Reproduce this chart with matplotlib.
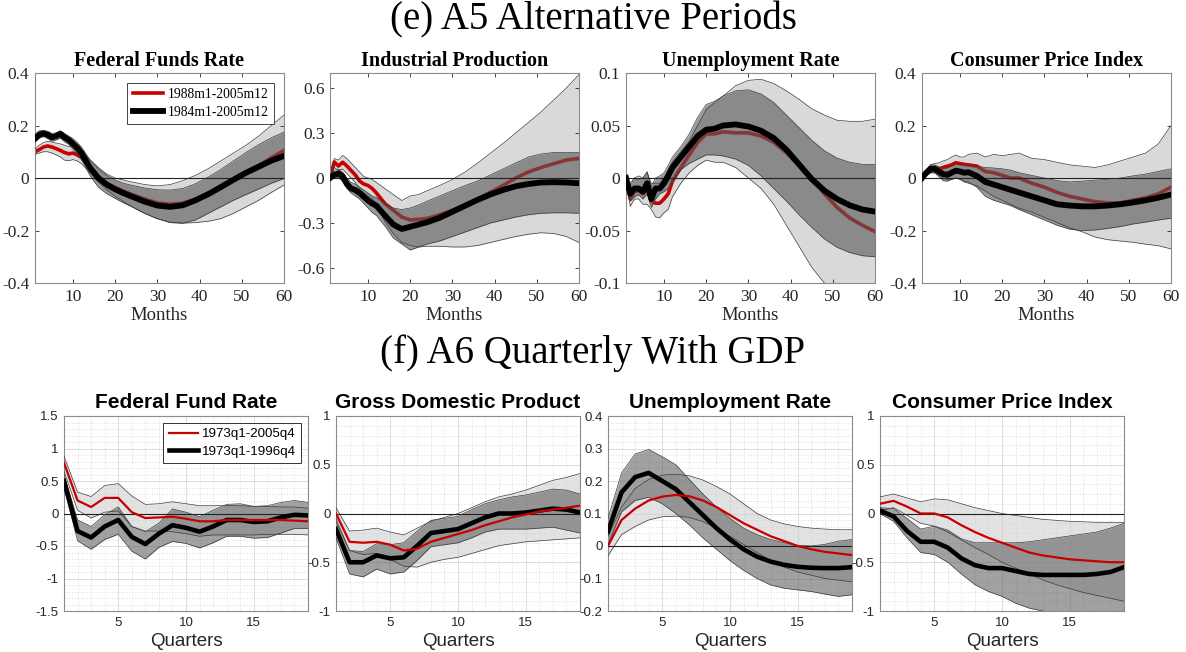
import matplotlib
matplotlib.use("Agg")
import matplotlib.pyplot as plt
from matplotlib.ticker import FixedLocator, MultipleLocator, FuncFormatter

plt.rcParams["axes.unicode_minus"] = False

SERIF = "Liberation Serif"
SANS = "Liberation Sans"

# ---------------- (e) monthly responses ----------------
months = [1, 2, 3, 4, 5, 6, 7, 8, 9, 10, 11, 12, 14, 16, 18, 20, 22, 24,
          27, 30, 33, 36, 39, 42, 45, 48, 51, 54, 57, 60]
monthly_labels = ["1988m1-2005m12", "1984m1-2005m12"]

# Federal funds rate
ffr_red = [0.10, 0.108, 0.118, 0.122, 0.118, 0.112, 0.105, 0.097, 0.092, 0.095, 0.088, 0.078,
           0.04, 0.005, -0.02, -0.037, -0.05, -0.063, -0.08, -0.095, -0.10, -0.096, -0.082,
           -0.06, -0.033, -0.005, 0.022, 0.048, 0.077, 0.105]
ffr_blk = [0.15, 0.165, 0.17, 0.165, 0.155, 0.16, 0.168, 0.155, 0.145, 0.13, 0.115, 0.095,
           0.04, 0.0, -0.025, -0.043, -0.058, -0.071, -0.09, -0.105, -0.11, -0.104, -0.085,
           -0.062, -0.035, -0.007, 0.02, 0.043, 0.066, 0.084]
ffr_red_hi = [0.11, 0.125, 0.135, 0.14, 0.137, 0.133, 0.13, 0.125, 0.12, 0.12, 0.11, 0.10,
              0.07, 0.04, 0.015, 0.0, -0.008, -0.015, -0.025, -0.03, -0.025, -0.01, 0.01,
              0.035, 0.065, 0.095, 0.125, 0.16, 0.20, 0.24]
ffr_red_lo = [0.09, 0.095, 0.10, 0.10, 0.095, 0.088, 0.08, 0.068, 0.066, 0.07, 0.065, 0.055,
              0.02, -0.015, -0.045, -0.07, -0.09, -0.11, -0.135, -0.155, -0.168, -0.172, -0.17,
              -0.165, -0.155, -0.135, -0.11, -0.085, -0.055, -0.027]
ffr_blk_hi = [0.165, 0.18, 0.182, 0.178, 0.17, 0.172, 0.18, 0.17, 0.16, 0.15, 0.135, 0.118,
              0.07, 0.035, 0.01, -0.008, -0.02, -0.028, -0.038, -0.045, -0.046, -0.04, -0.022,
              0.003, 0.032, 0.065, 0.097, 0.127, 0.153, 0.175]
ffr_blk_lo = [0.138, 0.152, 0.158, 0.15, 0.14, 0.145, 0.152, 0.138, 0.128, 0.11, 0.092, 0.072,
              0.01, -0.035, -0.06, -0.078, -0.095, -0.11, -0.135, -0.155, -0.17, -0.172, -0.16,
              -0.135, -0.11, -0.085, -0.063, -0.042, -0.02, -0.002]

# Industrial production
ip_red = [0.0, 0.107, 0.08, 0.105, 0.08, 0.05, 0.02, -0.02, -0.04, -0.05, -0.07, -0.10,
          -0.17, -0.215, -0.26, -0.28, -0.275, -0.27, -0.245, -0.215, -0.18, -0.14, -0.095,
          -0.05, 0.0, 0.04, 0.07, 0.095, 0.12, 0.13]
ip_blk = [0.0, 0.02, 0.03, 0.01, -0.04, -0.07, -0.08, -0.10, -0.125, -0.15, -0.17, -0.185,
          -0.25, -0.31, -0.34, -0.325, -0.31, -0.295, -0.265, -0.225, -0.185, -0.145, -0.11,
          -0.08, -0.055, -0.04, -0.03, -0.028, -0.03, -0.035]
ip_red_hi = [0.0, 0.13, 0.12, 0.15, 0.13, 0.10, 0.07, 0.04, 0.01, 0.0, -0.01, -0.03,
             -0.07, -0.11, -0.15, -0.12, -0.11, -0.085, -0.05, -0.01, 0.04, 0.10, 0.165,
             0.23, 0.30, 0.37, 0.44, 0.52, 0.60, 0.69]
ip_red_lo = [0.0, 0.07, 0.05, 0.06, 0.03, 0.0, -0.03, -0.07, -0.10, -0.12, -0.14, -0.17,
             -0.29, -0.37, -0.43, -0.45, -0.46, -0.455, -0.455, -0.46, -0.46, -0.45, -0.43,
             -0.41, -0.39, -0.375, -0.365, -0.37, -0.39, -0.43]
ip_blk_hi = [0.0, 0.05, 0.06, 0.04, 0.0, -0.03, -0.04, -0.06, -0.08, -0.10, -0.12, -0.13,
             -0.17, -0.20, -0.21, -0.20, -0.18, -0.155, -0.12, -0.085, -0.05, -0.02, 0.02,
             0.06, 0.10, 0.14, 0.16, 0.17, 0.17, 0.17]
ip_blk_lo = [0.0, 0.0, 0.0, -0.02, -0.07, -0.10, -0.12, -0.14, -0.17, -0.20, -0.23, -0.25,
             -0.32, -0.40, -0.44, -0.48, -0.46, -0.44, -0.42, -0.39, -0.36, -0.33, -0.30,
             -0.28, -0.26, -0.245, -0.235, -0.232, -0.232, -0.235]

# Unemployment rate
ur_red = [0.0, -0.02, -0.013, -0.012, -0.015, -0.01, -0.022, -0.024, -0.024, -0.02, -0.015, -0.003,
          0.01, 0.022, 0.034, 0.042, 0.042, 0.044, 0.043, 0.043, 0.04, 0.034, 0.024,
          0.012, 0.0, -0.015, -0.028, -0.038, -0.045, -0.051]
ur_blk = [0.0, -0.015, -0.01, -0.01, -0.013, -0.005, -0.02, -0.01, -0.01, -0.005, 0.002, 0.01,
          0.02, 0.03, 0.04, 0.046, 0.047, 0.05, 0.051, 0.049, 0.045, 0.038, 0.027,
          0.013, -0.001, -0.012, -0.02, -0.026, -0.03, -0.032]
ur_red_hi = [0.0, -0.005, 0.0, 0.002, 0.0, 0.005, -0.005, -0.005, -0.005, 0.0, 0.008, 0.015,
             0.025, 0.035, 0.05, 0.065, 0.072, 0.078, 0.088, 0.093, 0.094, 0.09, 0.083,
             0.075, 0.066, 0.06, 0.055, 0.054, 0.054, 0.056]
ur_red_lo = [0.0, -0.027, -0.02, -0.02, -0.025, -0.025, -0.03, -0.037, -0.038, -0.033, -0.03, -0.018,
             -0.005, 0.005, 0.012, 0.017, 0.015, 0.015, 0.01, 0.0, -0.01, -0.025, -0.045,
             -0.065, -0.085, -0.10, -0.11, -0.12, -0.13, -0.14]
ur_blk_hi = [0.0, -0.008, 0.0, -0.002, 0.0, 0.006, -0.008, 0.0, 0.002, 0.005, 0.012, 0.02,
             0.03, 0.042, 0.058, 0.07, 0.073, 0.078, 0.083, 0.084, 0.08, 0.072, 0.06,
             0.048, 0.036, 0.026, 0.019, 0.015, 0.013, 0.013]
ur_blk_lo = [0.0, -0.022, -0.018, -0.016, -0.02, -0.015, -0.028, -0.02, -0.015, -0.013, -0.01, -0.003,
             0.008, 0.014, 0.018, 0.022, 0.022, 0.021, 0.018, 0.012, 0.002, -0.01, -0.022,
             -0.035, -0.047, -0.058, -0.066, -0.071, -0.074, -0.075]

# Consumer price index
cpi_red = [0.0, 0.02, 0.04, 0.04, 0.035, 0.04, 0.045, 0.05, 0.058, 0.055, 0.052, 0.05,
           0.045, 0.025, 0.02, 0.01, 0.0, 0.0, -0.02, -0.035, -0.055, -0.07, -0.08,
           -0.09, -0.095, -0.095, -0.085, -0.075, -0.06, -0.035]
cpi_blk = [0.0, 0.02, 0.035, 0.035, 0.025, 0.015, 0.012, 0.02, 0.028, 0.025, 0.02, 0.022,
           0.008, -0.015, -0.025, -0.035, -0.045, -0.055, -0.07, -0.085, -0.10, -0.105, -0.108,
           -0.108, -0.105, -0.10, -0.093, -0.085, -0.075, -0.063]
cpi_red_hi = [0.0, 0.025, 0.05, 0.055, 0.058, 0.065, 0.07, 0.08, 0.088, 0.08, 0.08, 0.09,
              0.095, 0.08, 0.09, 0.085, 0.09, 0.095, 0.075, 0.07, 0.06, 0.05, 0.045,
              0.04, 0.05, 0.065, 0.08, 0.095, 0.13, 0.20]
cpi_red_lo = [0.0, 0.01, 0.02, 0.02, 0.01, 0.0, -0.005, -0.005, 0.0, -0.005, -0.015, -0.02,
              -0.03, -0.05, -0.07, -0.085, -0.10, -0.115, -0.13, -0.15, -0.17, -0.19, -0.205,
              -0.225, -0.235, -0.24, -0.245, -0.252, -0.258, -0.27]
cpi_blk_hi = [0.0, 0.03, 0.05, 0.05, 0.042, 0.035, 0.035, 0.045, 0.05, 0.05, 0.05, 0.048,
              0.045, 0.04, 0.038, 0.035, 0.03, 0.02, 0.01, 0.0, -0.01, -0.015, -0.012,
              -0.008, -0.005, 0.0, 0.008, 0.015, 0.025, 0.035]
cpi_blk_lo = [0.0, 0.008, 0.02, 0.02, 0.005, -0.01, -0.012, -0.005, 0.0, -0.005, -0.012, -0.015,
              -0.035, -0.07, -0.085, -0.095, -0.105, -0.12, -0.14, -0.16, -0.18, -0.195, -0.20,
              -0.198, -0.192, -0.185, -0.175, -0.168, -0.16, -0.153]

# ---------------- (f) quarterly responses ----------------
quarters = list(range(1, 20))
quarterly_labels = ["1973q1-2005q4", "1973q1-1996q4"]

qffr_red = [0.78, 0.20, 0.10, 0.24, 0.24, 0.02, -0.07, -0.06, -0.05, -0.08, -0.12, -0.12,
            -0.10, -0.10, -0.10, -0.10, -0.10, -0.11, -0.12]
qffr_blk = [0.50, -0.27, -0.37, -0.20, -0.10, -0.36, -0.47, -0.31, -0.18, -0.22, -0.28, -0.20,
            -0.10, -0.10, -0.13, -0.12, -0.06, -0.02, -0.03]
qffr_red_hi = [0.88, 0.33, 0.26, 0.43, 0.46, 0.27, 0.14, 0.15, 0.18, 0.15, 0.12, 0.12,
               0.12, 0.12, 0.11, 0.11, 0.10, 0.10, 0.08]
qffr_red_lo = [0.65, 0.05, -0.07, 0.02, 0.04, -0.20, -0.27, -0.27, -0.28, -0.31, -0.35, -0.33,
               -0.33, -0.33, -0.33, -0.32, -0.32, -0.32, -0.33]
qffr_blk_hi = [0.60, -0.10, -0.20, -0.02, 0.10, -0.20, -0.28, -0.15, 0.07, 0.02, -0.05, 0.05,
               0.14, 0.15, 0.11, 0.12, 0.17, 0.20, 0.17]
qffr_blk_lo = [0.40, -0.42, -0.55, -0.40, -0.32, -0.58, -0.70, -0.52, -0.43, -0.46, -0.53, -0.45,
               -0.35, -0.35, -0.38, -0.37, -0.30, -0.23, -0.23]

gdp_red = [0.0, -0.29, -0.30, -0.29, -0.32, -0.38, -0.36, -0.29, -0.25, -0.21, -0.17, -0.12,
           -0.08, -0.04, -0.01, 0.02, 0.04, 0.06, 0.08]
gdp_blk = [-0.16, -0.50, -0.50, -0.43, -0.46, -0.45, -0.33, -0.20, -0.18, -0.16, -0.10, -0.04,
           0.0, 0.0, 0.01, 0.03, 0.05, 0.04, 0.01]
gdp_red_hi = [0.06, -0.18, -0.17, -0.15, -0.19, -0.22, -0.15, -0.08, -0.04, 0.0, 0.06, 0.12,
              0.17, 0.20, 0.24, 0.29, 0.34, 0.37, 0.41]
gdp_red_lo = [-0.05, -0.38, -0.42, -0.41, -0.47, -0.54, -0.55, -0.50, -0.47, -0.45, -0.41, -0.37,
              -0.33, -0.31, -0.29, -0.28, -0.27, -0.26, -0.25]
gdp_blk_hi = [-0.08, -0.38, -0.39, -0.31, -0.32, -0.30, -0.18, -0.07, -0.05, -0.03, 0.04, 0.10,
              0.14, 0.17, 0.19, 0.22, 0.25, 0.24, 0.20]
gdp_blk_lo = [-0.25, -0.62, -0.65, -0.57, -0.62, -0.60, -0.48, -0.34, -0.32, -0.30, -0.25, -0.19,
              -0.16, -0.16, -0.16, -0.15, -0.14, -0.17, -0.20]

qur_red = [0.0, 0.08, 0.115, 0.14, 0.152, 0.157, 0.153, 0.14, 0.12, 0.095, 0.07, 0.05,
           0.03, 0.015, 0.0, -0.01, -0.018, -0.023, -0.028]
qur_blk = [0.045, 0.165, 0.212, 0.225, 0.20, 0.175, 0.135, 0.095, 0.055, 0.02, -0.01, -0.033,
           -0.048, -0.058, -0.064, -0.067, -0.068, -0.068, -0.065]
qur_red_hi = [0.03, 0.12, 0.177, 0.205, 0.218, 0.221, 0.216, 0.203, 0.183, 0.16, 0.13, 0.10,
              0.08, 0.068, 0.06, 0.055, 0.052, 0.05, 0.05]
qur_red_lo = [-0.03, 0.035, 0.06, 0.08, 0.09, 0.092, 0.088, 0.075, 0.055, 0.03, 0.005, -0.02,
              -0.045, -0.065, -0.08, -0.09, -0.10, -0.105, -0.11]
qur_blk_hi = [0.085, 0.225, 0.283, 0.297, 0.275, 0.25, 0.205, 0.16, 0.12, 0.085, 0.055, 0.035,
              0.02, 0.01, 0.002, 0.0, 0.005, 0.015, 0.02]
qur_blk_lo = [0.005, 0.105, 0.14, 0.15, 0.13, 0.10, 0.065, 0.025, -0.01, -0.045, -0.075, -0.10,
              -0.12, -0.13, -0.135, -0.14, -0.148, -0.155, -0.15]

qcpi_red = [0.10, 0.13, 0.07, 0.0, 0.0, -0.04, -0.12, -0.19, -0.25, -0.30, -0.35, -0.40,
            -0.43, -0.45, -0.47, -0.48, -0.49, -0.50, -0.50]
qcpi_blk = [0.03, -0.03, -0.18, -0.29, -0.29, -0.35, -0.46, -0.53, -0.56, -0.56, -0.59, -0.62,
            -0.63, -0.63, -0.63, -0.63, -0.62, -0.60, -0.55]
qcpi_red_hi = [0.17, 0.20, 0.16, 0.12, 0.15, 0.14, 0.10, 0.06, 0.03, 0.0, -0.02, -0.04,
               -0.06, -0.07, -0.08, -0.085, -0.09, -0.09, -0.09]
qcpi_red_lo = [0.03, 0.06, -0.02, -0.10, -0.13, -0.19, -0.27, -0.35, -0.42, -0.50, -0.56, -0.62,
               -0.68, -0.73, -0.77, -0.81, -0.84, -0.87, -0.90]
qcpi_blk_hi = [0.06, 0.05, -0.05, -0.16, -0.13, -0.17, -0.26, -0.30, -0.30, -0.30, -0.30, -0.29,
               -0.27, -0.25, -0.23, -0.21, -0.19, -0.15, -0.10]
qcpi_blk_lo = [0.0, -0.08, -0.25, -0.40, -0.42, -0.50, -0.62, -0.73, -0.80, -0.85, -0.92, -0.97,
               -1.0, -1.02, -1.03, -1.03, -1.03, -1.03, -1.0]

RED = "#c80000"
fmt = FuncFormatter(lambda v, p: "%g" % round(v, 6))

W, H = 1186, 652
fig = plt.figure(figsize=(W / 100, H / 100), dpi=100)


def px_axes(left, top, right, bottom):
    return fig.add_axes([left / W, 1 - bottom / H, (right - left) / W, (bottom - top) / H])


def draw_monthly(ax, title, red, blk, rlo, rhi, blo, bhi, ylim, yticks, legend=False):
    ax.fill_between(months, rlo, rhi, color="#d9d9d9", lw=0, zorder=1)
    ax.plot(months, red, color=RED, lw=2.6, zorder=2, label=monthly_labels[0])
    ax.fill_between(months, blo, bhi, color="#5a5a5a", alpha=0.62, lw=0, zorder=3)
    for edge in (rlo, rhi, blo, bhi):
        ax.plot(months, edge, color="#3a3a3a", lw=0.5, zorder=4)
    ax.axhline(0, color="#222222", lw=0.8, zorder=4)
    ax.plot(months, blk, color="black", lw=4.2, zorder=5, label=monthly_labels[1])
    ax.set_xlim(1, 60)
    ax.set_ylim(*ylim)
    ax.xaxis.set_major_locator(FixedLocator([10, 20, 30, 40, 50, 60]))
    ax.yaxis.set_major_locator(FixedLocator(yticks))
    ax.yaxis.set_major_formatter(fmt)
    ax.tick_params(direction="in", length=3, width=0.6, top=True, right=True,
                   labelsize=12.5, colors="#262626", pad=4)
    for lab in ax.get_xticklabels() + ax.get_yticklabels():
        lab.set_family(SERIF)
    for s in ax.spines.values():
        s.set_color("#8c8c8c")
        s.set_linewidth(0.8)
    ax.set_title(title, family=SERIF, fontweight="bold", fontsize=14.5, pad=5)
    ax.set_xlabel("Months", family=SERIF, fontsize=13.5, labelpad=2, color="#262626")
    if legend:
        leg = ax.legend(loc="upper right", prop={"family": SERIF, "size": 9.8},
                        fancybox=False, framealpha=1, edgecolor="#444444",
                        handlelength=2.2, borderpad=0.4, labelspacing=0.35,
                        borderaxespad=0.7, handletextpad=0.4)
        leg.get_frame().set_linewidth(0.7)


def draw_quarterly(ax, title, red, blk, rlo, rhi, blo, bhi, ylim, ymajor, yminor, legend=False):
    ax.set_axisbelow(True)
    ax.grid(which="major", color="#dcdcdc", lw=0.7, ls="-")
    ax.grid(which="minor", color="#d2d2d2", lw=0.6, ls=(0, (1, 2)))
    ax.fill_between(quarters, rlo, rhi, color="#cfcfcf", alpha=0.6, lw=0, zorder=1)
    ax.fill_between(quarters, blo, bhi, color="#555555", alpha=0.55, lw=0, zorder=2)
    for edge in (rlo, rhi, blo, bhi):
        ax.plot(quarters, edge, color="#3a3a3a", lw=0.5, zorder=3)
    ax.axhline(0, color="#222222", lw=0.8, zorder=3)
    ax.plot(quarters, red, color=RED, lw=1.6, zorder=5, label=quarterly_labels[0])
    ax.plot(quarters, blk, color="black", lw=3.3, zorder=4, label=quarterly_labels[1])
    ax.set_xlim(1, 19)
    ax.set_ylim(*ylim)
    ax.xaxis.set_major_locator(FixedLocator([5, 10, 15]))
    ax.xaxis.set_minor_locator(MultipleLocator(1))
    ax.yaxis.set_major_locator(MultipleLocator(ymajor))
    ax.yaxis.set_minor_locator(MultipleLocator(yminor))
    ax.yaxis.set_major_formatter(fmt)
    ax.tick_params(which="both", direction="in", length=0, labelsize=9.5,
                   colors="#262626", pad=4)
    for lab in ax.get_xticklabels() + ax.get_yticklabels():
        lab.set_family(SANS)
    for s in ax.spines.values():
        s.set_color("#8c8c8c")
        s.set_linewidth(0.8)
    ax.set_title(title, family=SANS, fontweight="bold", fontsize=15, pad=6)
    ax.set_xlabel("Quarters", family=SANS, fontsize=13.5, labelpad=3, color="#262626")
    if legend:
        leg = ax.legend(loc="upper right", prop={"family": SANS, "size": 9.6},
                        fancybox=False, framealpha=1, edgecolor="#333333",
                        handlelength=2.2, borderpad=0.4, labelspacing=0.4,
                        borderaxespad=0.5, handletextpad=0.3)
        leg.get_frame().set_linewidth(0.7)


# section headings
fig.text(0.5, 1 - 20 / H, "(e) A5 Alternative Periods", ha="center", va="center",
         family=SERIF, fontsize=28)
fig.text(0.5, 1 - 353 / H, "(f) A6 Quarterly With GDP", ha="center", va="center",
         family=SERIF, fontsize=28)

top_lefts = [35, 330, 626, 922]
a1 = px_axes(top_lefts[0], 73, top_lefts[0] + 249, 283)
draw_monthly(a1, "Federal Funds Rate", ffr_red, ffr_blk, ffr_red_lo, ffr_red_hi,
             ffr_blk_lo, ffr_blk_hi, (-0.4, 0.4), [-0.4, -0.2, 0, 0.2, 0.4], legend=True)
a2 = px_axes(top_lefts[1], 73, top_lefts[1] + 249, 283)
draw_monthly(a2, "Industrial Production", ip_red, ip_blk, ip_red_lo, ip_red_hi,
             ip_blk_lo, ip_blk_hi, (-0.7, 0.7), [-0.6, -0.3, 0, 0.3, 0.6])
a3 = px_axes(top_lefts[2], 73, top_lefts[2] + 249, 283)
draw_monthly(a3, "Unemployment Rate", ur_red, ur_blk, ur_red_lo, ur_red_hi,
             ur_blk_lo, ur_blk_hi, (-0.1, 0.1), [-0.1, -0.05, 0, 0.05, 0.1])
a4 = px_axes(top_lefts[3], 73, top_lefts[3] + 249, 283)
draw_monthly(a4, "Consumer Price Index", cpi_red, cpi_blk, cpi_red_lo, cpi_red_hi,
             cpi_blk_lo, cpi_blk_hi, (-0.4, 0.4), [-0.4, -0.2, 0, 0.2, 0.4])

bot_lefts = [64, 336, 608, 880]
b1 = px_axes(bot_lefts[0], 416, bot_lefts[0] + 244, 611)
draw_quarterly(b1, "Federal Fund Rate", qffr_red, qffr_blk, qffr_red_lo, qffr_red_hi,
               qffr_blk_lo, qffr_blk_hi, (-1.5, 1.5), 0.5, 0.1, legend=True)
b2 = px_axes(bot_lefts[1], 416, bot_lefts[1] + 244, 611)
draw_quarterly(b2, "Gross Domestic Product", gdp_red, gdp_blk, gdp_red_lo, gdp_red_hi,
               gdp_blk_lo, gdp_blk_hi, (-1, 1), 0.5, 0.1)
b3 = px_axes(bot_lefts[2], 416, bot_lefts[2] + 244, 611)
draw_quarterly(b3, "Unemployment Rate", qur_red, qur_blk, qur_red_lo, qur_red_hi,
               qur_blk_lo, qur_blk_hi, (-0.2, 0.4), 0.1, 0.02)
b4 = px_axes(bot_lefts[3], 416, bot_lefts[3] + 244, 611)
draw_quarterly(b4, "Consumer Price Index", qcpi_red, qcpi_blk, qcpi_red_lo, qcpi_red_hi,
               qcpi_blk_lo, qcpi_blk_hi, (-1, 1), 0.5, 0.1)

fig.savefig("out.png", dpi=100)
